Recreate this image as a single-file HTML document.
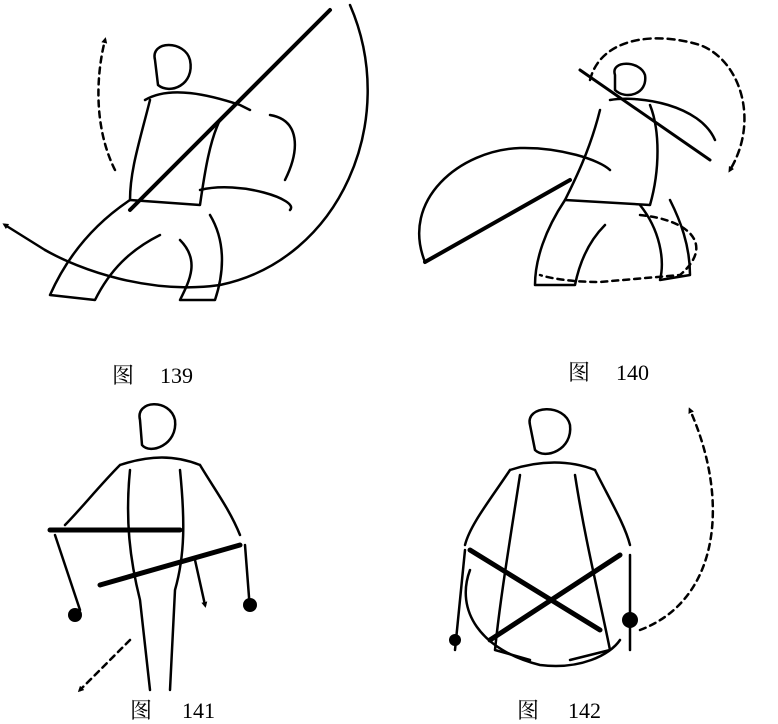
<!DOCTYPE html>
<html><head><meta charset="utf-8"><style>
html,body{margin:0;padding:0;background:#fff;}
svg{display:block}
text{font-family:"Liberation Serif","Noto Serif CJK SC",serif;font-size:22px;fill:#000}
</style></head><body>
<svg width="778" height="724" viewBox="0 0 778 724" xmlns="http://www.w3.org/2000/svg">
<defs>
<marker id="ah" markerWidth="6" markerHeight="6" refX="3" refY="3" orient="auto" markerUnits="userSpaceOnUse"><path d="M0,0 L6,3 L0,6 z" fill="#000"/></marker>
</defs>
<g fill="none" stroke="#000" stroke-width="2.5" stroke-linecap="round" stroke-linejoin="round">
<path d="M350,5 C400,120 340,260 220,285 C150,295 80,270 45,250"/>
<path d="M45,250 L5,225" marker-end="url(#ah)"/>
<path d="M115,170 C95,130 95,80 105,40" stroke-dasharray="6,5" marker-end="url(#ah)"/>
<path d="M130,210 L330,10" stroke-width="4"/>
<path d="M155,60 C150,40 185,40 190,60 C195,85 170,95 158,85 Z"/>
<path d="M145,100 C170,85 210,95 240,105 L250,110 M150,100 C140,140 130,170 130,200 L200,205 C205,170 210,140 220,120"/>
<path d="M130,200 C100,220 70,250 50,295 L95,300 C110,270 130,250 160,235 M180,240 C200,260 190,280 180,300 L215,300 C225,270 225,240 210,215"/>
<path d="M270,115 C300,120 300,150 285,180 M200,190 C240,180 300,200 290,210"/>
<path d="M425,262 C400,200 460,150 520,148 C560,147 600,160 610,170" />
<path d="M425,262 L570,180" stroke-width="4"/>
<path d="M580,70 L710,160" stroke-width="3"/>
<path d="M590,80 C600,40 650,30 700,45 C740,60 760,120 730,170" stroke-dasharray="7,5" marker-end="url(#ah)"/>
<path d="M640,215 C690,220 715,245 680,275 L600,282 C560,282 540,275 540,275" stroke-dasharray="6,5"/>
<path d="M615,75 C610,60 640,60 645,75 C648,95 625,100 615,90 Z"/>
<path d="M610,100 C640,95 700,105 715,140 M600,110 C590,150 575,180 565,200 L650,205 C660,170 660,130 650,105"/>
<path d="M565,200 C545,230 535,260 535,285 L575,285 C580,260 590,240 605,225 M640,205 C660,230 665,260 660,280 L690,275 C690,245 680,220 670,200"/>
<path d="M140,420 C135,400 170,398 175,420 C178,445 150,455 142,445 Z"/>
<path d="M120,465 C150,455 175,455 200,465 M120,465 C100,485 80,510 65,525 M200,465 C215,490 230,510 240,535"/>
<path d="M130,470 C125,520 130,560 140,600 L150,690 M180,470 C185,520 185,555 175,590 L170,690"/>
<path d="M50,530 L180,530" stroke-width="5"/>
<path d="M100,585 L240,545" stroke-width="5"/>
<path d="M55,535 L80,610 M245,545 L250,610"/>
<path d="M195,560 L205,605" marker-end="url(#ah)"/>
<path d="M130,640 L80,690" stroke-dasharray="6,5" marker-end="url(#ah)"/>
<path d="M530,425 C525,405 565,403 570,425 C573,450 545,460 535,450 Z"/>
<path d="M510,470 C540,460 570,460 595,470 M510,470 C490,500 470,525 465,545 M595,470 C610,500 625,525 630,545"/>
<path d="M520,475 C510,540 500,600 495,650 L530,660 M575,475 C585,540 600,600 610,650 L570,660"/>
<path d="M470,550 L600,630" stroke-width="5"/>
<path d="M620,555 L490,640" stroke-width="5"/>
<path d="M465,550 L455,650 M630,555 L630,650"/>
<path d="M640,630 C720,600 730,500 690,410" stroke-dasharray="6,5" marker-end="url(#ah)"/>
<path d="M470,570 C455,610 480,650 540,665 C580,670 610,655 620,640"/>
</g>
<g fill="#000">
<circle cx="75" cy="615" r="7"/><circle cx="250" cy="605" r="7"/>
<circle cx="455" cy="640" r="6"/><circle cx="630" cy="620" r="8"/>
</g>
<text x="112" y="383">图</text><text x="160" y="383">139</text>
<text x="568" y="380">图</text><text x="616" y="380">140</text>
<text x="130" y="718">图</text><text x="182" y="718">141</text>
<text x="517" y="718">图</text><text x="568" y="718">142</text>
</svg>
</body></html>
